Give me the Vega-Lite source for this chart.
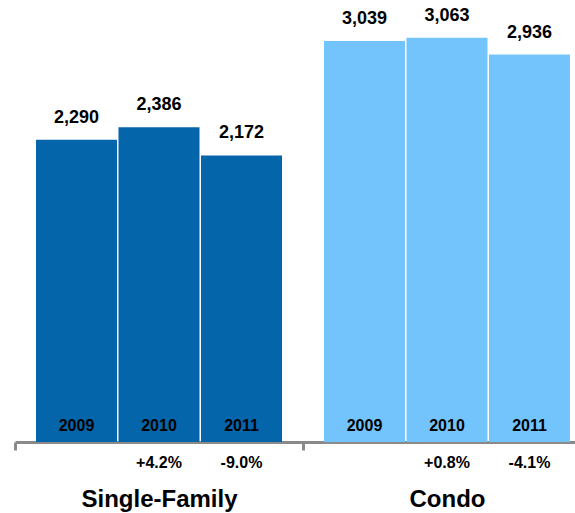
{
  "$schema": "https://vega.github.io/schema/vega-lite/v6.json",
  "width": 560,
  "height": 442,
  "autosize": {"type": "none"},
  "padding": {"left": 15, "top": 0, "right": 0, "bottom": 71},
  "config": {"view": {"stroke": null}, "font": "Liberation Sans"},
  "data": {"values": [
    {"group": "Single-Family", "year": "2009", "value": 2290, "change": ""},
    {"group": "Single-Family", "year": "2010", "value": 2386, "change": "+4.2%"},
    {"group": "Single-Family", "year": "2011", "value": 2172, "change": "-9.0%"},
    {"group": "Condo", "year": "2009", "value": 3039, "change": ""},
    {"group": "Condo", "year": "2010", "value": 3063, "change": "+0.8%"},
    {"group": "Condo", "year": "2011", "value": 2936, "change": "-4.1%"}
  ]},
  "encoding": {
    "x": {
      "field": "group", "type": "nominal", "sort": ["Single-Family", "Condo"],
      "scale": {"range": [0, 576], "paddingInner": 0, "paddingOuter": 0},
      "axis": {
        "title": null, "labelAngle": 0, "tickBand": "extent",
        "labelFont": "Liberation Sans", "labelFontSize": 24, "labelFontWeight": "bold", "labelColor": "#000000",
        "labelBaseline": "alphabetic", "labelPadding": 56,
        "domainColor": "#8a8a8a", "domainWidth": 3,
        "tickColor": "#8a8a8a", "tickWidth": 3, "tickSize": 8
      }
    },
    "xOffset": {
      "field": "year", "type": "ordinal", "sort": ["2009", "2010", "2011"],
      "scale": {"paddingInner": 0.018, "paddingOuter": 0.2545}
    }
  },
  "layer": [
    {
      "mark": {"type": "bar"},
      "encoding": {
        "y": {"field": "value", "type": "quantitative", "scale": {"domain": [0, 3350], "nice": false, "zero": true}, "axis": null},
        "color": {"field": "group", "type": "nominal", "scale": {"domain": ["Single-Family", "Condo"], "range": ["#0465AB", "#73C3FD"]}, "legend": null}
      }
    },
    {
      "mark": {"type": "text", "font": "Liberation Sans", "fontSize": 18, "fontWeight": "bold", "color": "#000000", "baseline": "alphabetic", "dy": -17},
      "encoding": {
        "y": {"field": "value", "type": "quantitative"},
        "text": {"field": "value", "type": "quantitative", "format": ","}
      }
    },
    {
      "mark": {"type": "text", "font": "Liberation Sans", "fontSize": 16, "fontWeight": "bold", "color": "#000000", "baseline": "alphabetic", "dy": -11},
      "encoding": {
        "y": {"datum": 0, "type": "quantitative"},
        "text": {"field": "year", "type": "nominal"}
      }
    },
    {
      "mark": {"type": "text", "font": "Liberation Sans", "fontSize": 16, "fontWeight": "bold", "color": "#000000", "baseline": "alphabetic", "dy": 26},
      "encoding": {
        "y": {"datum": 0, "type": "quantitative"},
        "text": {"field": "change", "type": "nominal"}
      }
    }
  ]
}
